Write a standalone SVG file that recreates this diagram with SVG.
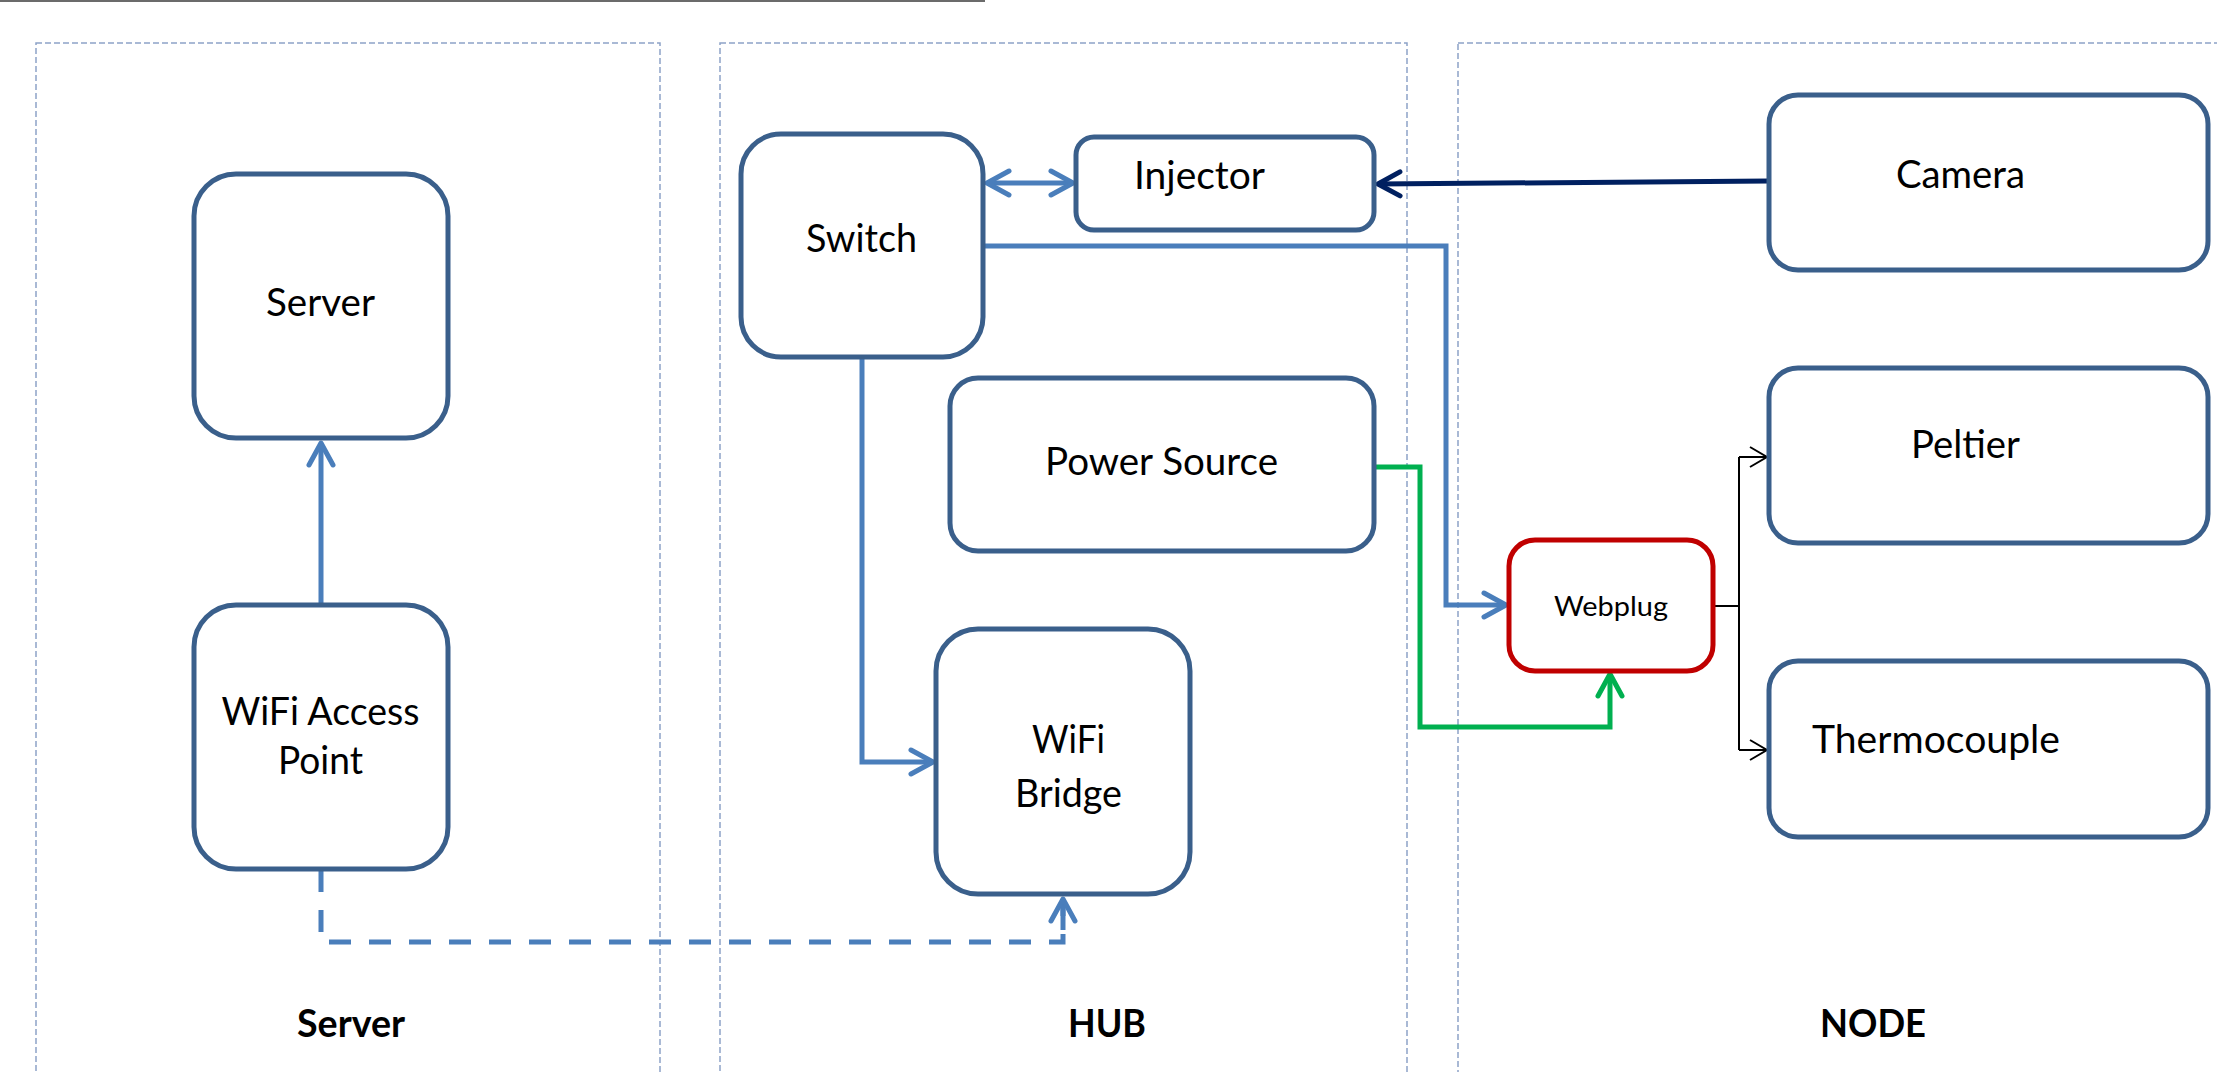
<svg xmlns="http://www.w3.org/2000/svg" width="2217" height="1072" viewBox="0 0 2217 1072">
  <style>
    .panel { fill: none; stroke: #8da3c7; stroke-width: 1.5; stroke-dasharray: 6 3; }
    .node { fill: #ffffff; stroke: #3a5f8b; stroke-width: 5; }
    .node.red { stroke: #c00000; }
    .lbl { font-family: Lato, "Liberation Sans", sans-serif; font-size: 38px; fill: #000; text-anchor: middle; }
    .small { font-size: 27px; }
    .section { font-family: Lato, "Liberation Sans", sans-serif; font-weight: bold; font-size: 38px; fill: #000; text-anchor: middle; }
    .c { fill: none; stroke-width: 5; stroke-linejoin: miter; }
    .blue { stroke: #4a7ebb; }
    .navy { stroke: #002060; }
    .green { stroke: #00b050; }
    .thin { stroke: #000; stroke-width: 2; fill: none; }
    .dash { stroke-dasharray: 22 18; }
  </style>
  <defs>
    <marker id="aBlue" viewBox="-28 -16 32 32" refX="0" refY="0" markerWidth="32" markerHeight="32" markerUnits="userSpaceOnUse" orient="auto-start-reverse">
      <path d="M-22,-12 L0,0 L-22,12" fill="none" stroke="#4a7ebb" stroke-width="5" stroke-linecap="round" stroke-linejoin="round"/>
    </marker>
    <marker id="aNavy" viewBox="-28 -16 32 32" refX="0" refY="0" markerWidth="32" markerHeight="32" markerUnits="userSpaceOnUse" orient="auto">
      <path d="M-22,-12 L0,0 L-22,12" fill="none" stroke="#002060" stroke-width="5" stroke-linecap="round" stroke-linejoin="round"/>
    </marker>
    <marker id="aGreen" viewBox="-28 -16 32 32" refX="0" refY="0" markerWidth="32" markerHeight="32" markerUnits="userSpaceOnUse" orient="auto">
      <path d="M-22,-12 L0,0 L-22,12" fill="none" stroke="#00b050" stroke-width="5" stroke-linecap="round" stroke-linejoin="round"/>
    </marker>
    <marker id="aBlack" viewBox="-22 -14 26 28" refX="0" refY="0" markerWidth="26" markerHeight="28" markerUnits="userSpaceOnUse" orient="auto">
      <path d="M-17,-10 L0,0 L-17,10" fill="none" stroke="#000" stroke-width="2"/>
    </marker>
  </defs>

  <rect width="2217" height="1072" fill="#ffffff"/>

  <!-- header rule -->
  <line x1="0" y1="1" x2="985" y2="1" stroke="#6b6b6b" stroke-width="2"/>

  <!-- zone frames -->
  <g id="zones">
    <rect class="panel" x="36" y="43" width="624" height="1060"/>
    <rect class="panel" x="720" y="43" width="687" height="1060"/>
    <rect class="panel" x="1458" y="43" width="820" height="1060"/>
    <text class="section" x="351" y="1037" textLength="108" lengthAdjust="spacingAndGlyphs">Server</text>
    <text class="section" x="1107" y="1037" textLength="78" lengthAdjust="spacingAndGlyphs">HUB</text>
    <text class="section" x="1873" y="1037" textLength="106" lengthAdjust="spacingAndGlyphs">NODE</text>
  </g>

  <!-- connectors -->
  <g id="connectors">
    <path class="c blue" d="M321,604 L321,443" marker-end="url(#aBlue)"/>
    <path class="c blue dash" d="M321,870 L321,942 L1063,942 L1063,899"/>
    <path class="c blue" d="M1063,930 L1063,899" marker-end="url(#aBlue)"/>
    <path class="c blue" d="M862,358 L862,762 L933,762" marker-end="url(#aBlue)"/>
    <path class="c blue" d="M987,183 L1073,183" marker-start="url(#aBlue)" marker-end="url(#aBlue)"/>
    <path class="c blue" d="M983,246 L1446,246 L1446,605 L1506,605" marker-end="url(#aBlue)"/>
    <path class="c navy" d="M1769,181 L1378,184" marker-end="url(#aNavy)"/>
    <path class="c green" d="M1375,467 L1420,467 L1420,727 L1610,727 L1610,674" marker-end="url(#aGreen)"/>
    <path class="thin" d="M1714,606 L1739,606"/>
    <path class="thin" d="M1739,457 L1739,750"/>
    <path class="thin" d="M1739,457 L1767,457" marker-end="url(#aBlack)"/>
    <path class="thin" d="M1739,750 L1767,750" marker-end="url(#aBlack)"/>
  </g>

  <!-- nodes -->
  <g id="server">
    <rect class="node" x="194" y="174" width="254" height="264" rx="42"/>
    <text class="lbl" x="320.5" y="316" textLength="109" lengthAdjust="spacingAndGlyphs">Server</text>
  </g>
  <g id="wifi-access-point">
    <rect class="node" x="194" y="605" width="254" height="264" rx="42"/>
    <text class="lbl" x="320.5" y="725" textLength="198" lengthAdjust="spacingAndGlyphs">WiFi Access</text>
    <text class="lbl" x="320.5" y="774" textLength="85" lengthAdjust="spacingAndGlyphs">Point</text>
  </g>
  <g id="switch">
    <rect class="node" x="741" y="134" width="242" height="223" rx="40"/>
    <text class="lbl" x="861.5" y="252" textLength="111" lengthAdjust="spacingAndGlyphs">Switch</text>
  </g>
  <g id="injector">
    <rect class="node" x="1076" y="137" width="298" height="93" rx="18"/>
    <text class="lbl" x="1199.5" y="189" textLength="131" lengthAdjust="spacingAndGlyphs">Injector</text>
  </g>
  <g id="power-source">
    <rect class="node" x="950" y="378" width="424" height="173" rx="28"/>
    <text class="lbl" x="1161.5" y="475" textLength="233" lengthAdjust="spacingAndGlyphs">Power Source</text>
  </g>
  <g id="wifi-bridge">
    <rect class="node" x="936" y="629" width="254" height="265" rx="42"/>
    <text class="lbl" x="1068.5" y="753" textLength="73" lengthAdjust="spacingAndGlyphs">WiFi</text>
    <text class="lbl" x="1068.5" y="807" textLength="107" lengthAdjust="spacingAndGlyphs">Bridge</text>
  </g>
  <g id="webplug">
    <rect class="node red" x="1509" y="540" width="204" height="131" rx="26"/>
    <text class="lbl small" x="1611" y="616" textLength="114" lengthAdjust="spacingAndGlyphs">Webplug</text>
  </g>
  <g id="camera">
    <rect class="node" x="1769" y="95" width="439" height="175" rx="29"/>
    <text class="lbl" x="1960.5" y="188" textLength="129" lengthAdjust="spacingAndGlyphs">Camera</text>
  </g>
  <g id="peltier">
    <rect class="node" x="1769" y="368" width="439" height="175" rx="29"/>
    <text class="lbl" x="1965.5" y="458" textLength="109" lengthAdjust="spacingAndGlyphs">Peltier</text>
  </g>
  <g id="thermocouple">
    <rect class="node" x="1769" y="661" width="439" height="176" rx="29"/>
    <text class="lbl" x="1936" y="753" textLength="248" lengthAdjust="spacingAndGlyphs">Thermocouple</text>
  </g>
</svg>
